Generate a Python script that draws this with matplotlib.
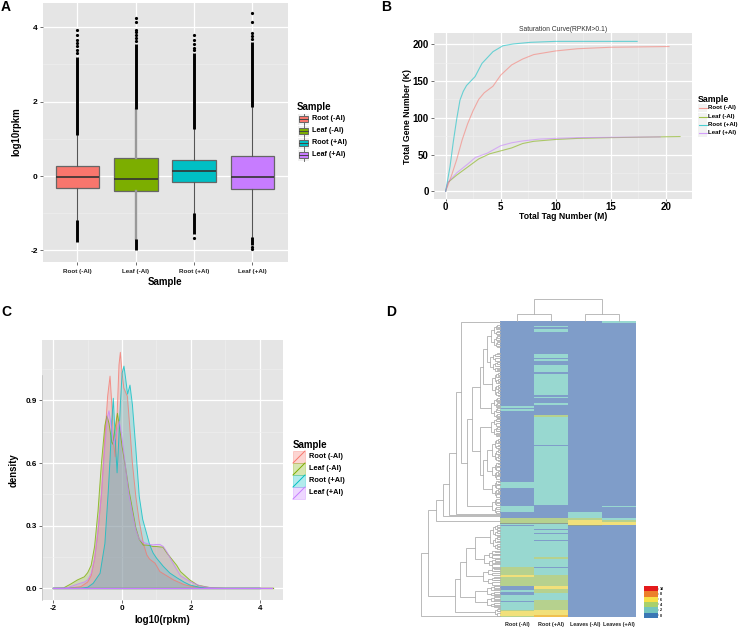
import matplotlib
matplotlib.use("Agg")
import matplotlib.pyplot as plt
from matplotlib.colors import ListedColormap
from matplotlib.patches import Rectangle
import numpy as np

W, H = 740, 628
SAMPLES = ["Root (-Al)", "Leaf (-Al)", "Root (+Al)", "Leaf (+Al)"]
COLORS = ["#F8766D", "#7CAE00", "#00BFC4", "#C77CFF"]

# panel A, box plot
box_q1 = [-0.33, -0.40, -0.17, -0.36]
box_med = [-0.03, -0.07, 0.13, -0.02]
box_q3 = [0.26, 0.49, 0.42, 0.55]
whisk_lo = [-1.17, -1.70, -1.00, -1.65]
whisk_hi = [1.10, 1.79, 1.26, 1.85]
dense_hi = [3.20, 3.55, 3.30, 3.60]
dense_lo = [-1.78, -1.98, -1.55, -1.85]
single_fliers = [
    [3.30, 3.38, 3.50, 3.58, 3.65, 3.80, 3.93],
    [3.62, 3.72, 3.80, 3.88, 3.93, 4.15, 4.25],
    [3.38, 3.45, 3.55, 3.65, 3.80, -1.67],
    [3.68, 3.76, 3.85, 4.13, 4.37, -1.90, -1.95],
]

# panel B, saturation curves
tag_root_minus = [0, 0.5, 1, 1.5, 2, 2.5, 3, 3.5, 4.3, 5, 6, 7, 8, 10, 12, 15, 20.3]
gene_root_minus = [0, 20, 43, 70, 92, 110, 125, 134, 143, 158, 172, 180, 186, 191, 194, 196, 197]
tag_leaf_minus = [0, 0.2, 1, 2, 3, 4, 5, 6, 7, 8, 10, 12, 15, 21.3]
gene_leaf_minus = [0, 12, 22, 33, 44, 51, 55, 59, 65, 68, 70.5, 72, 73, 74.5]
tag_root_plus = [0, 0.4, 0.7, 1, 1.3, 1.6, 1.9, 2.67, 3.3, 4.3, 5.2, 6.15, 7.7, 10, 17.4]
gene_root_plus = [0, 34, 68, 98, 124, 136, 144, 156, 174, 190, 198, 200.5, 202.7, 204, 204]
tag_leaf_plus = [0, 0.2, 1, 2, 2.7, 3.8, 5, 6, 7, 8.5, 10, 12, 15, 19.5]
gene_leaf_plus = [0, 12, 25, 37, 46, 52, 62, 66, 68.5, 71, 72, 73, 73.5, 74]

# panel C, density curves
dens_x_root_minus = [-2, -1.6, -1.2, -1, -.9, -.8, -.7, -.6, -.5, -.42, -.35, -.29, -.25, -.2, -.14, -.09, -.05, 0, .05, .1,
                     .155, .22, .3, .4, .5, .62, .72, .8, .96, 1.1, 1.3, 1.5, 1.8, 2, 2.4, 3, 4]
dens_y_root_minus = [0, 0, .008, .03, .06, .14, .27, .45, .72, .92, 1.016, .86, .70, .63, .85, 1.07, 1.13, 1.03, .96, .94,
                     .92, .78, .6, .44, .32, .215, .16, .14, .12, .08, .06, .04, .018, .01, .002, 0, 0]
dens_x_leaf_minus = [-2, -1.7, -1.5, -1.3, -1.1, -1, -.9, -.8, -.7, -.6, -.5, -.44, -.38, -.3, -.27, -.2, -.135, -.08, 0, .1,
                     .2, .3, .4, .5, .616, .7, .8, .9, 1, 1.19, 1.3, 1.59, 1.7, 1.97, 2.2, 2.6, 3, 4.4]
dens_y_leaf_minus = [0, .002, .02, .04, .055, .075, .11, .2, .37, .6, .78, .825, .79, .7, .69, .77, .838, .78, .68, .58,
                     .47, .38, .29, .235, .207, .207, .205, .2, .2, .197, .17, .11, .08, .04, .015, .002, 0, 0]
dens_x_root_plus = [-2, -1.2, -1, -.84, -.64, -.5, -.4, -.35, -.3, -.255, -.2, -.145, -.1, -.05, 0, .055, .1, .16, .23, .3,
                    .4, .5, .6, .71, .8, .9, 1, 1.2, 1.39, 1.6, 1.8, 1.97, 2.3, 2.6, 4]
dens_y_root_plus = [0, 0, .005, .024, .072, .215, .47, .62, .8, .91, .72, .553, .7, .88, 1.03, 1.064, 1.01, .93, .973, .88,
                    .67, .44, .33, .265, .21, .17, .145, .105, .073, .05, .03, .016, .003, 0, 0]
dens_x_leaf_plus = [-2, -1.6, -1.3, -1.1, -1, -.9, -.8, -.7, -.6, -.5, -.43, -.38, -.3, -.25, -.18, -.08, 0, .1, .2, .3,
                    .4, .5, .6, .7, .8, .9, 1, 1.1, 1.2, 1.3, 1.5, 1.7, 2, 2.3, 2.6, 3, 4.35]
dens_y_leaf_plus = [0, .002, .02, .03, .04, .07, .14, .28, .45, .68, .82, .85, .76, .69, .73, .80, .72, .58, .45, .36,
                    .28, .235, .222, .215, .21, .208, .21, .21, .2, .175, .115, .06, .03, .01, .002, 0, 0]

# panel D, heat map runs as (last row, colour level), 296 rows from the top
heat_labels = ["Root (-Al)", "Root (+Al)", "Leaves (-Al)", "Leaves (+Al)"]
heat_root_minus = [(86, 0), (88, 1), (89, 0), (91, 1), (161, 0), (167, 1), (185, 0), (191, 1), (197, 0), (202, 2), (203, 5),
                   (204, 1), (205, 0), (246, 1), (254, 2), (256, 3), (265, 2), (269, 0), (271, 1), (274, 0), (280, 1),
                   (281, 0), (289, 1), (290, 2), (295, 3), (296, 2)]
heat_root_plus = [(6, 0), (7, 1), (9, 0), (12, 1), (34, 0), (38, 1), (39, 0), (41, 1), (45, 0), (52, 1), (54, 0), (75, 1),
                  (77, 0), (78, 1), (83, 0), (85, 1), (95, 0), (97, 2), (125, 1), (126, 0), (184, 1), (197, 0), (202, 2),
                  (203, 5), (208, 1), (209, 0), (212, 1), (213, 0), (219, 1), (220, 0), (236, 1), (238, 2), (246, 1),
                  (247, 0), (254, 1), (265, 2), (268, 3), (272, 2), (279, 1), (289, 2), (294, 3), (296, 4)]
heat_leaves_minus = [(191, 0), (197, 1), (199, 2), (204, 3), (205, 5), (296, 0)]
heat_leaves_plus = [(1, 0), (3, 1), (185, 0), (186, 1), (197, 0), (199, 1), (201, 2), (204, 3), (296, 0)]
heat_colors = ["#7F9DC9", "#98D8D0", "#B6D18E", "#F1E07A", "#F0C050", "#8F9F90"]
bar_colors = ["#3A77B5", "#74C5BD", "#A8D06C", "#F7E046", "#EC7F2A", "#E41A1C"]
bar_ticks = ["0", "2", "4", "6", "8", "10"]


def px_axes(fig, left, top, right, bottom):
    return fig.add_axes([left / W, 1 - bottom / H, (right - left) / W, (bottom - top) / H])


def gg_style(ax, xmajor, xminor, ymajor, yminor, size):
    ax.set_facecolor("#E5E5E5")
    for s in ax.spines.values():
        s.set_visible(False)
    ax.set_axisbelow(True)
    ax.set_xticks(xmajor)
    ax.set_yticks(ymajor)
    ax.set_xticks(xminor, minor=True)
    ax.set_yticks(yminor, minor=True)
    ax.grid(True, which="major", color="white", lw=0.9)
    ax.grid(True, which="minor", color="#F0F0F0", lw=0.4)
    ax.tick_params(which="major", length=2.2, width=0.6, color="#555555", labelsize=size, pad=1.5)
    ax.tick_params(which="minor", length=0)


def flat_rows(runs):
    levels = []
    start = 0
    for end, level in runs:
        levels += [level] * (end - start)
        start = end
    return levels


def cluster(top, bottom, depth):
    if bottom - top < 3:
        return (depth, top, bottom)
    cut = top + (bottom - top) * 0.45
    return (depth, cluster(top, cut, depth * 0.7), cluster(cut + 1.5, bottom, depth * 0.7))


def draw_tree(ax, node, flip=False):
    if not isinstance(node, tuple):
        return node, 0
    depth, a, b = node
    ya, da = draw_tree(ax, a, flip)
    yb, db = draw_tree(ax, b, flip)
    hs, vs = [da, depth, depth, db], [ya, ya, yb, yb]
    if flip:
        hs, vs = vs, hs
    ax.plot(hs, vs, color="#B0B0B0", lw=0.6, solid_joinstyle="miter", clip_on=False)
    return (ya + yb) / 2, depth


def panel_a(fig):
    ax = px_axes(fig, 43, 2.7, 288, 262)
    stats = []
    for i in range(4):
        stats.append(dict(med=box_med[i], q1=box_q1[i], q3=box_q3[i], whislo=whisk_lo[i], whishi=whisk_hi[i], fliers=single_fliers[i]))
    art = ax.bxp(stats, positions=[1, 2, 3, 4], widths=0.75, patch_artist=True, showcaps=False,
                 medianprops=dict(color="#333333", lw=1.2),
                 whiskerprops=dict(color="#555555", lw=0.8),
                 flierprops=dict(marker="o", ms=2.3, mfc="black", mec="black", mew=0))
    for patch, c in zip(art["boxes"], COLORS):
        patch.set_facecolor(c)
        patch.set_edgecolor("#666666")
        patch.set_linewidth(0.9)
    for line in art["whiskers"][2:4]:
        line.set_color("#999999")
        line.set_linewidth(1.7)
    for i in range(4):
        ax.vlines(i + 1, whisk_hi[i], dense_hi[i], color="black", lw=2.1, zorder=3)
        ax.vlines(i + 1, dense_lo[i], whisk_lo[i], color="black", lw=2.1, zorder=3)
    ax.set_xlim(0.41, 4.61)
    ax.set_ylim(-2.31, 4.66)
    gg_style(ax, [1, 2, 3, 4], [], [-2, 0, 2, 4], [-1, 1, 3], 6)
    ax.set_xticklabels(SAMPLES, fontsize=4.5, fontweight="bold", color="#222222")
    ax.set_yticklabels(["-2", "0", "2", "4"], fontweight="bold")
    ax.tick_params(axis="x", pad=3)


def panel_b(fig):
    ax = px_axes(fig, 434, 32.7, 691.7, 199)
    curves = [(tag_root_minus, gene_root_minus), (tag_leaf_minus, gene_leaf_minus),
              (tag_root_plus, gene_root_plus), (tag_leaf_plus, gene_leaf_plus)]
    for (x, y), c in zip(curves, COLORS):
        ax.plot(x, y, color=c, lw=0.8, alpha=0.55)
    ax.set_xlim(-1.06, 22.36)
    ax.set_ylim(-10.5, 215.8)
    gg_style(ax, [0, 5, 10, 15, 20], [2.5, 7.5, 12.5, 17.5], [0, 50, 100, 150, 200], [25, 75, 125, 175], 7)
    ax.set_xticklabels(["0", "5", "10", "15", "20"], fontweight="bold")
    ax.set_yticklabels(["0", "50", "100", "150", "200"], fontweight="bold")
    ax.tick_params(axis="x", length=1.5, pad=0.3)


def panel_c(fig):
    ax = px_axes(fig, 42.3, 340, 283, 600)
    curves = [(dens_x_root_minus, dens_y_root_minus), (dens_x_leaf_minus, dens_y_leaf_minus),
              (dens_x_root_plus, dens_y_root_plus), (dens_x_leaf_plus, dens_y_leaf_plus)]
    for (x, y), c in zip(curves, COLORS):
        ax.fill(x, y, facecolor=c, alpha=0.22, lw=0)
    for (x, y), c in zip(curves, COLORS):
        ax.plot(x, y, color=c, lw=0.7, alpha=0.75)
        ax.plot(x, np.zeros(len(x)), color=c, lw=0.9)
    ax.set_xlim(-2.32, 4.68)
    ax.set_ylim(-0.056, 1.189)
    gg_style(ax, [-2, 0, 2, 4], [-1, 1, 3], [0, 0.3, 0.6, 0.9], [0.15, 0.45, 0.75, 1.05], 5.8)
    ax.set_xticklabels(["-2", "0", "2", "4"], fontweight="bold")
    ax.set_yticklabels(["0.0", "0.3", "0.6", "0.9"], fontweight="bold")


def panel_d(fig):
    ax = px_axes(fig, 500.3, 320.7, 636, 616.7)
    matrix = np.array([flat_rows(heat_root_minus), flat_rows(heat_root_plus),
                       flat_rows(heat_leaves_minus), flat_rows(heat_leaves_plus)]).T
    ax.imshow(matrix, aspect="auto", cmap=ListedColormap(heat_colors), vmin=-0.5, vmax=5.5,
              extent=[0, 4, 296, 0], interpolation="nearest")
    ax.set_xticks([0.5, 1.5, 2.5, 3.5])
    ax.set_xticklabels(heat_labels, fontsize=3.9, fontweight="bold", color="#222222")
    ax.set_yticks([])
    ax.tick_params(length=0, pad=3.5)
    for s in ax.spines.values():
        s.set_visible(False)

    # row dendrogram
    rows = px_axes(fig, 418, 320.7, 500.3, 616.7)
    rows.set_xlim(82.3, 0)
    rows.set_ylim(296, 0)
    rows.axis("off")
    upper = (20, (17, (13, cluster(4, 26, 9), cluster(32, 50, 10)), cluster(52, 75, 8)), cluster(77, 97, 9))
    middle = (20, cluster(97, 115, 9), (17, (13, cluster(118, 140, 8), cluster(142, 158, 8)), cluster(160, 176, 8)))
    e_top = (39.6, 1, (33.6, (28.6, upper, middle), cluster(178, 192, 8)))
    d_top = (51.3, (44.6, e_top, 193), 194)
    b_top = (64.6, (57.6, d_top, 195), 200)
    lower = (34, (25, cluster(204, 228, 10), cluster(230, 246, 16)), cluster(247, 264, 17))
    bottom = (45, (40, lower, (25, cluster(265, 275, 13), cluster(276, 286, 13))), cluster(287, 295, 5))
    draw_tree(rows, (79.6, (72, b_top, bottom), 295.5))

    # column dendrogram
    cols = px_axes(fig, 500.3, 298.5, 636, 320.7)
    cols.set_xlim(0, 4)
    cols.set_ylim(0, 1)
    cols.axis("off")
    draw_tree(cols, (0.97, (0.3, 0.5, 1.5), (0.3, 2.5, 3.5)), flip=True)

    # colour key
    key = px_axes(fig, 644, 586, 658, 617.7)
    key.imshow(np.arange(6)[::-1].reshape(6, 1), aspect="auto", cmap=ListedColormap(bar_colors), extent=[0, 1, 0, 6])
    key.set_xticks([])
    key.yaxis.tick_right()
    key.set_yticks([0.5, 1.5, 2.5, 3.5, 4.5, 5.5])
    key.set_yticklabels(bar_ticks, fontsize=2.6, fontweight="bold")
    key.tick_params(length=1, width=0.3, pad=0.5)
    for s in key.spines.values():
        s.set_visible(False)


def legends(ov):
    # A
    ov.text(297, 107, "Sample", fontsize=7, fontweight="bold", va="center")
    for i, (y, c) in enumerate(zip([119, 131, 143, 155], COLORS)):
        ov.add_patch(Rectangle((298, y - 5.5), 11, 11, fc="#F0F0F0", ec="none"))
        ov.plot([303.5, 303.5], [y - 5.5, y + 5.5], color="#555555", lw=0.6)
        ov.add_patch(Rectangle((299, y - 3), 9, 6, fc=c, ec="#666666", lw=0.7, zorder=3))
        ov.plot([299, 308], [y, y], color="#444444", lw=0.7, zorder=4)
        ov.text(311.5, y, SAMPLES[i], fontsize=5.2, fontweight="bold", va="center")
    # B
    ov.text(698, 99, "Sample", fontsize=6.3, fontweight="bold", va="center")
    for i, (y, c) in enumerate(zip([108, 116.5, 124.5, 132.5], COLORS)):
        ov.add_patch(Rectangle((698, y - 4), 9, 8, fc="#F2F2F2", ec="none"))
        ov.plot([698.5, 706.5], [y, y], color=c, lw=0.8, alpha=0.7)
        ov.text(708, y, SAMPLES[i], fontsize=4.4, fontweight="bold", va="center")
    # C
    ov.text(293, 444.7, "Sample", fontsize=7, fontweight="bold", va="center")
    for i, (y, c) in enumerate(zip([457, 469, 481, 493], COLORS)):
        ov.add_patch(Rectangle((293, y - 6), 12, 12, fc=c, ec=c, lw=0.7, alpha=0.3))
        ov.plot([293, 305], [y + 6, y - 6], color=c, lw=0.7)
        ov.text(309, y, SAMPLES[i], fontsize=5.3, fontweight="bold", va="center")


def main():
    plt.rcParams["font.family"] = ["Liberation Sans", "DejaVu Sans"]
    fig = plt.figure(figsize=(W / 100, H / 100), dpi=100, facecolor="white")
    panel_a(fig)
    panel_b(fig)
    panel_c(fig)
    panel_d(fig)

    ov = fig.add_axes([0, 0, 1, 1])
    ov.set_xlim(0, W)
    ov.set_ylim(H, 0)
    ov.axis("off")
    ov.patch.set_alpha(0)
    legends(ov)
    for label, x, y in [("A", 1, 7), ("B", 381, 7), ("C", 1, 312), ("D", 386, 312)]:
        ov.text(x, y, label, fontsize=10, fontweight="bold", va="center")
    ov.text(165, 281.7, "Sample", fontsize=7, fontweight="bold", ha="center", va="center")
    ov.text(16, 131.7, "log10rpkm", fontsize=6.9, fontweight="bold", rotation=90, ha="center", va="center")
    ov.text(562.7, 29.5, "Saturation Curve(RPKM>0.1)", fontsize=4.9, color="#333333", ha="center", va="center")
    ov.text(562.7, 216.5, "Total Tag Number (M)", fontsize=6.2, fontweight="bold", ha="center", va="center")
    ov.text(408, 116, "Total Gene Number (K)", fontsize=6.3, fontweight="bold", rotation=90, ha="center", va="center")
    ov.text(162.7, 620, "log10(rpkm)", fontsize=7, fontweight="bold", ha="center", va="center")
    ov.text(14, 470, "density", fontsize=6.9, fontweight="bold", rotation=90, ha="center", va="center")
    ov.plot([42, 42], [375, 600], color="#BBBBBB", lw=0.5)

    fig.savefig("out.png", dpi=100)


if __name__ == "__main__":
    main()
